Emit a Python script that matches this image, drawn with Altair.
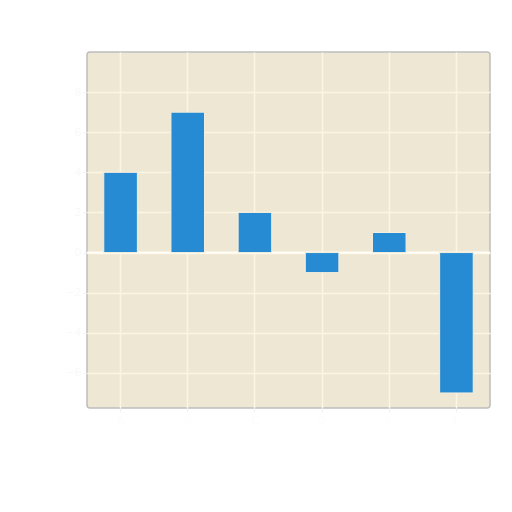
import altair as alt
import pandas as pd

categories = ["A", "B", "C", "D", "E", "F"]
values = [4, 7, 2, -1, 1, -7]
y_ticks = [-6, -4, -2, 0, 2, 4, 6, 8]

df = pd.DataFrame({"category": categories, "value": values})
zero = pd.DataFrame({"y": [0]})

bars = alt.Chart(df).mark_bar(color="#268BD2", stroke="#F4EEDD", strokeWidth=1).encode(
    x=alt.X("category:N", sort=categories, title=None,
            scale=alt.Scale(paddingInner=0.5, paddingOuter=0.25),
            axis=alt.Axis(labelAngle=0, labelColor="#FDFDFD", tickColor="#F0F0F0",
                          gridColor="#FBF5E4", gridWidth=1.5, grid=True, domain=False,
                          labelFontSize=11, tickSize=4)),
    y=alt.Y("value:Q", title=None,
            scale=alt.Scale(domain=[-7.75, 10], nice=False, zero=False),
            axis=alt.Axis(values=y_ticks, labelColor="#F9F9F9", tickColor="#F0F0F0",
                          gridColor="#FBF5E4", gridWidth=1.5, domain=False,
                          labelFontSize=11, tickSize=4)),
)

zero_rule = alt.Chart(zero).mark_rule(color="#FFFDF6", strokeWidth=2).encode(y="y:Q")

chart = alt.layer(zero_rule, bars).properties(
    width=403, height=356,
    autosize=alt.AutoSizeParams(type="none"),
    padding={"left": 79, "top": 44, "right": 14, "bottom": 96},
).configure_view(
    fill="#EEE7D4", stroke="#BDBDBD", strokeWidth=1.5, cornerRadius=3
).configure_axis(labelFont="DejaVu Sans")

chart.save("out.html", embed_options={"renderer": "svg", "actions": False})
